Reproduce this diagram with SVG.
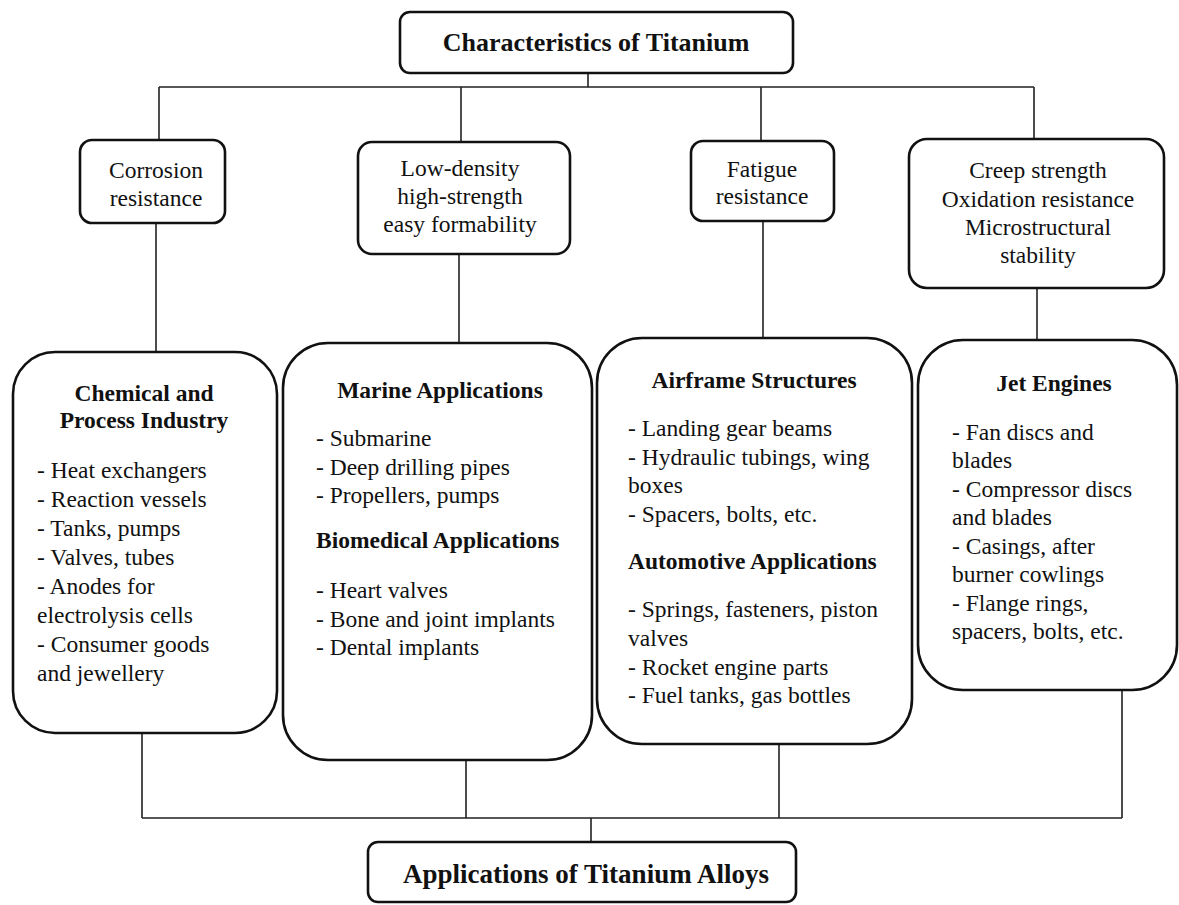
<svg xmlns="http://www.w3.org/2000/svg" width="1179" height="905" viewBox="0 0 1179 905">
<style>
.box{fill:#fff;stroke:#111;stroke-width:2.6}
.ln{fill:none;stroke:#222;stroke-width:1.6}
text{font-family:"Liberation Serif","Times New Roman",serif;fill:#111;font-size:23.5px}
.c{text-anchor:middle}
.b{font-weight:bold}
.t{font-weight:bold;font-size:26px}
</style>
<rect width="1179" height="905" fill="#fff"/>
<g id="connectors">
<path class="ln" d="M588 73V87M159 87H1034M159 87V140M461 87V142M761 87V140M1034 87V139"/>
<path class="ln" d="M156 223V352M459 254V343M763 221V338M1037 288V340"/>
<path class="ln" d="M142 733V818M466 760V818M779 744V818M1122 690V818M142 818H1122M591 818V842"/>
</g>
<g id="title">
<rect class="box" x="400" y="12" width="393" height="61" rx="10"/>
<text class="t c" x="596" y="51">Characteristics of Titanium</text>
</g>
<g id="corrosion">
<rect class="box" x="80" y="140" width="145" height="83" rx="12"/>
<text class="c" x="156" y="178">Corrosion</text>
<text class="c" x="156" y="206">resistance</text>
</g>
<g id="lowdensity">
<rect class="box" x="358" y="142" width="212" height="112" rx="14"/>
<text class="c" x="460" y="176">Low-density</text>
<text class="c" x="460" y="204">high-strength</text>
<text class="c" x="460" y="232">easy formability</text>
</g>
<g id="fatigue">
<rect class="box" x="691" y="141" width="143" height="80" rx="12"/>
<text class="c" x="762" y="177">Fatigue</text>
<text class="c" x="762" y="204">resistance</text>
</g>
<g id="creep">
<rect class="box" x="909" y="139" width="255" height="149" rx="18"/>
<text class="c" x="1038" y="178">Creep strength</text>
<text class="c" x="1038" y="207">Oxidation resistance</text>
<text class="c" x="1038" y="235">Microstructural</text>
<text class="c" x="1038" y="263">stability</text>
</g>
<g id="chemical">
<rect class="box" x="13" y="352" width="264" height="381" rx="42"/>
<text class="b c" x="144" y="401">Chemical and</text>
<text class="b c" x="144" y="428">Process Industry</text>
<text x="37" y="478">- Heat exchangers</text>
<text x="37" y="507">- Reaction vessels</text>
<text x="37" y="536">- Tanks, pumps</text>
<text x="37" y="565">- Valves, tubes</text>
<text x="37" y="594">- Anodes for</text>
<text x="37" y="623">electrolysis cells</text>
<text x="37" y="652">- Consumer goods</text>
<text x="37" y="681">and jewellery</text>
</g>
<g id="marine">
<rect class="box" x="283" y="343" width="309" height="417" rx="45"/>
<text class="b c" x="440" y="398">Marine Applications</text>
<text x="316" y="446">- Submarine</text>
<text x="316" y="475">- Deep drilling pipes</text>
<text x="316" y="503">- Propellers, pumps</text>
<text class="b" x="316" y="548">Biomedical Applications</text>
<text x="316" y="598">- Heart valves</text>
<text x="316" y="627">- Bone and joint implants</text>
<text x="316" y="655">- Dental implants</text>
</g>
<g id="airframe">
<rect class="box" x="597" y="338" width="315" height="406" rx="45"/>
<text class="b c" x="754" y="388">Airframe Structures</text>
<text x="628" y="436">- Landing gear beams</text>
<text x="628" y="465">- Hydraulic tubings, wing</text>
<text x="628" y="493">boxes</text>
<text x="628" y="522">- Spacers, bolts, etc.</text>
<text class="b" x="628" y="569">Automotive Applications</text>
<text x="628" y="617">- Springs, fasteners, piston</text>
<text x="628" y="646">valves</text>
<text x="628" y="675">- Rocket engine parts</text>
<text x="628" y="703">- Fuel tanks, gas bottles</text>
</g>
<g id="jet">
<rect class="box" x="918" y="340" width="259" height="350" rx="45"/>
<text class="b c" x="1054" y="391">Jet Engines</text>
<text x="952" y="440">- Fan discs and</text>
<text x="952" y="468">blades</text>
<text x="952" y="497">- Compressor discs</text>
<text x="952" y="525">and blades</text>
<text x="952" y="554">- Casings, after</text>
<text x="952" y="582">burner cowlings</text>
<text x="952" y="611">- Flange rings,</text>
<text x="952" y="639">spacers, bolts, etc.</text>
</g>
<g id="applications">
<rect class="box" x="368" y="842" width="428" height="60" rx="10"/>
<text class="t c" x="586" y="883" style="font-size:27px">Applications of Titanium Alloys</text>
</g>
</svg>
